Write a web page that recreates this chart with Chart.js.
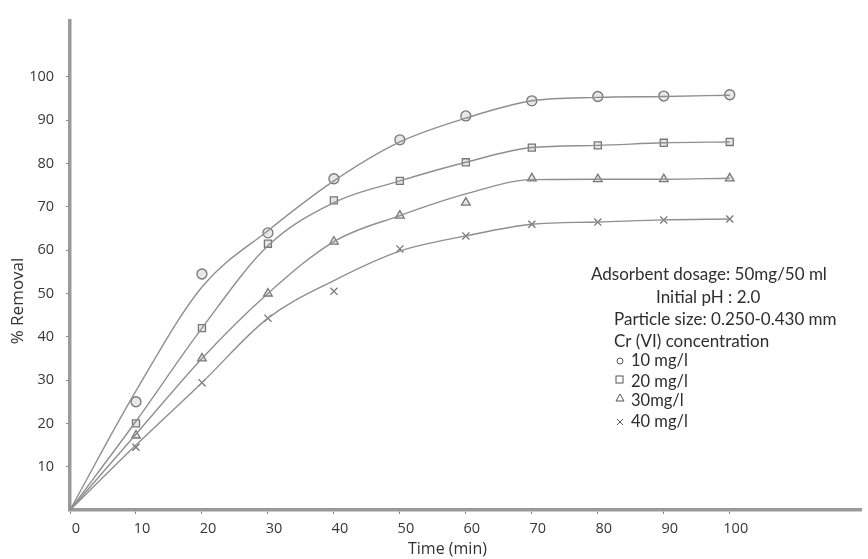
<!DOCTYPE html>
<html><head><meta charset="utf-8">
<script src="https://cdn.jsdelivr.net/npm/chart.js@4/dist/chart.umd.min.js"></script>
<style>html,body{margin:0;padding:0;background:#fff}#wrap{width:868px;height:559px}</style>
</head><body><div id="wrap"><canvas id="c" width="868" height="559"></canvas></div>
<script>
// measured points
const times = [0, 10, 20, 30, 40, 50, 60, 70, 80, 90, 100];
const s10 = [0, 25, 54.5, 64, 76.5, 85.5, 91, 94.5, 95.5, 95.6, 95.9];
const s20 = [0, 20, 42, 61.5, 71.5, 76, 80.3, 83.7, 84.2, 84.8, 85];
const s30 = [0, 17.2, 35, 50, 62, 68, 71, 76.6, 76.4, 76.4, 76.6];
const s40 = [0, 14.5, 29.4, 44.3, 50.5, 60.3, 63.3, 66, 66.5, 67, 67.2];
// drawn (fitted) curves at the same times
const c10 = [0, 27.5, 51.5, 64.5, 76, 85, 90.5, 94.5, 95.3, 95.5, 95.8];
const c20 = [0, 20.5, 42, 61, 71, 76, 80.3, 83.7, 84.2, 84.8, 85];
const c30 = [0, 17.5, 35, 50, 62, 68, 73, 76.3, 76.4, 76.4, 76.6];
const c40 = [0, 15, 29.4, 44.3, 53, 59.8, 63.3, 66, 66.5, 67, 67.2];
const seriesNames = ['10 mg/l', '20 mg/l', '30mg/l', '40 mg/l'];
const pointStyles = ['circle', 'rect', 'triangle', 'crossRot'];
const xTicks = [0, 10, 20, 30, 40, 50, 60, 70, 80, 90, 100];
const yTicks = [10, 20, 30, 40, 50, 60, 70, 80, 90, 100];
const notes = ['Adsorbent dosage: 50mg/50 ml', 'Initial pH : 2.0', 'Particle size: 0.250-0.430 mm', 'Cr (VI) concentration'];

const pts = [s10, s20, s30, s40];
const curves = [c10, c20, c30, c40];
const datasets = [];
curves.forEach((c, i) => {
  datasets.push({
    label: seriesNames[i] + ' curve',
    data: times.map((t, j) => ({x: t, y: c[j]})),
    borderColor: '#8f8f8f',
    borderWidth: 1.4,
    pointRadius: 0,
    cubicInterpolationMode: 'monotone',
    fill: false
  });
});
pts.forEach((s, i) => {
  datasets.push({
    label: seriesNames[i],
    data: times.filter(t => t > 0).map(t => ({x: t, y: s[times.indexOf(t)]})),
    showLine: false,
    pointStyle: pointStyles[i],
    pointRadius: 5,
    pointBorderColor: '#777',
    pointBackgroundColor: 'rgba(215,215,215,0.6)',
    pointBorderWidth: 1.3
  });
});

const textPlugin = {
  id: 'texts',
  afterDraw(chart) {
    const ctx = chart.ctx;
    ctx.save();
    ctx.fillStyle = '#333';
    ctx.font = '16px "Open Sans", sans-serif';
    ctx.textAlign = 'left';
    ctx.textBaseline = 'middle';
    ctx.fillText('Time (min)', 408, 549);
    ctx.font = '17px "Open Sans", sans-serif';
    ctx.textAlign = 'center';
    ctx.translate(18, 301);
    ctx.rotate(-Math.PI / 2);
    ctx.fillText('% Removal', 0, 0);
    ctx.restore();

    ctx.save();
    ctx.fillStyle = '#2e2e2e';
    ctx.font = '17px Lato, "Open Sans", sans-serif';
    ctx.textBaseline = 'middle';
    ctx.textAlign = 'left';
    ctx.fillText(notes[0], 591, 275);
    ctx.fillText(notes[1], 656, 298);
    ctx.fillText(notes[2], 614, 320);
    ctx.fillText(notes[3], 614, 342);
    ctx.font = '16.5px Lato, "Open Sans", sans-serif';
    const ys = [361, 382, 401, 422];
    seriesNames.forEach((n, i) => {
      ctx.fillText(n, 631, ys[i]);
    });
    ctx.strokeStyle = '#555';
    ctx.lineWidth = 1;
    const sx = 620;
    ctx.beginPath(); ctx.arc(sx, ys[0], 3, 0, Math.PI * 2); ctx.stroke();
    ctx.strokeRect(sx - 4, ys[1] - 6, 7, 7);
    ctx.beginPath(); ctx.moveTo(sx, ys[2] - 7); ctx.lineTo(sx + 4, ys[2]); ctx.lineTo(sx - 4, ys[2]); ctx.closePath(); ctx.stroke();
    ctx.beginPath(); ctx.moveTo(sx - 3, ys[3] - 3); ctx.lineTo(sx + 3, ys[3] + 3); ctx.moveTo(sx + 3, ys[3] - 3); ctx.lineTo(sx - 3, ys[3] + 3); ctx.stroke();
    ctx.restore();
  }
};

new Chart(document.getElementById('c'), {
  type: 'line',
  data: { datasets },
  options: {
    responsive: false,
    animation: false,
    layout: { padding: { top: 17, right: 0, left: 0, bottom: 0 } },
    plugins: { legend: { display: false }, tooltip: { enabled: false } },
    scales: {
      x: {
        type: 'linear', min: 0, max: 120,
        afterFit(s) { s.height = 49; },
        afterBuildTicks(s) { s.ticks = xTicks.map(v => ({value: v})); },
        ticks: { color: '#383838', font: { size: 14.5, family: '"Open Sans", sans-serif' }, padding: 6, maxRotation: 0, labelOffset: 6 },
        grid: { drawOnChartArea: false, drawTicks: true, tickLength: 4, color: '#888' },
        border: { color: '#9a9a9a', width: 3.5 }
      },
      y: {
        type: 'linear', min: 0, max: 113,
        afterFit(s) { s.width = 70; },
        afterBuildTicks(s) { s.ticks = yTicks.map(v => ({value: v})); },
        ticks: { color: '#383838', font: { size: 14.5, family: '"Open Sans", sans-serif' }, padding: 12 },
        grid: { drawOnChartArea: false, drawTicks: true, tickLength: 4, color: '#888' },
        border: { color: '#9a9a9a', width: 3.5 }
      }
    }
  },
  plugins: [textPlugin]
});
</script>
</body></html>
